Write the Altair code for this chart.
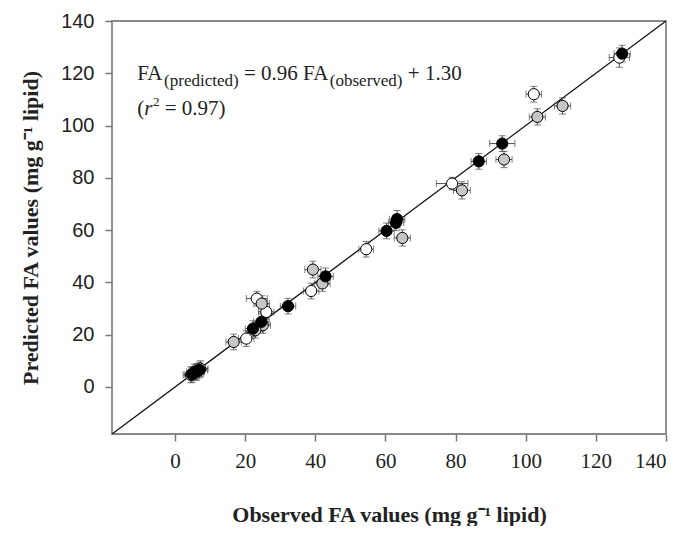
import altair as alt
import pandas as pd

# ---- data ----
black_obs  = [127.5, 93.3, 86.6, 63.3, 63.0, 60.3, 42.9, 32.2, 24.6, 22.2, 5.5, 7.0, 4.8]
black_pred = [127.5, 93.1, 86.3, 64.2, 62.8, 59.7, 42.3, 30.9, 24.9, 22.3, 5.7, 6.5, 4.8]
black_xerr = [2.3, 3.6, 2.2, 2.2, 2.2, 2.2, 2.2, 2.2, 2.2, 2.2, 2.2, 2.2, 2.2]
black_yerr = [3.2, 3.0, 3.0, 3.3, 3.0, 3.0, 3.2, 3.0, 3.0, 3.0, 3.0, 3.0, 3.0]

gray_obs  = [110.5, 103.3, 93.8, 81.8, 64.8, 39.3, 42.0, 24.7, 25.0, 22.9, 16.7, 6.2, 7.2]
gray_pred = [107.5, 103.3, 87.0, 75.2, 57.0, 44.9, 39.6, 31.9, 23.6, 21.7, 17.2, 6.0, 7.0]
gray_xerr = [2.3, 2.3, 2.3, 2.4, 2.3, 2.3, 2.2, 2.2, 2.2, 2.2, 2.2, 2.2, 2.2]
gray_yerr = [3.1, 3.1, 3.1, 3.3, 3.1, 3.2, 3.0, 3.0, 3.0, 3.0, 3.0, 3.0, 3.0]

open_obs  = [126.7, 102.3, 79.0, 54.5, 38.8, 23.3, 26.0, 20.3, 4.5, 6.0]
open_pred = [126.0, 112.0, 77.8, 52.7, 36.7, 33.8, 28.7, 18.5, 4.6, 5.5]
open_xerr = [2.9, 2.2, 4.5, 2.1, 2.2, 3.0, 2.2, 2.2, 2.2, 2.2]
open_yerr = [3.7, 3.0, 2.4, 3.0, 3.0, 2.8, 3.0, 3.0, 3.0, 3.0]

series_names = ["open", "gray", "black"]
series_fill = ["white", "#c6c6c6", "black"]
ticks = [0, 20, 40, 60, 80, 100, 120, 140]
domain = [-18, 140]

SERIF = "Liberation Serif, Times New Roman, Times, serif"
SANS = "Liberation Sans, Arial, Helvetica, sans-serif"

rows = []
for name, xs_, ys_, xe, ye in [
    ("open", open_obs, open_pred, open_xerr, open_yerr),
    ("gray", gray_obs, gray_pred, gray_xerr, gray_yerr),
    ("black", black_obs, black_pred, black_xerr, black_yerr),
]:
    for a, b, c, d in zip(xs_, ys_, xe, ye):
        rows.append(dict(series=name, obs=a, pred=b,
                         xlo=a - c, xhi=a + c, ylo=b - d, yhi=b + d))
df = pd.DataFrame(rows)

xs = alt.Scale(domain=domain, nice=False, zero=False)
ys = alt.Scale(domain=domain, nice=False, zero=False)

xaxis = alt.Axis(values=ticks, title="Observed FA values (mg g\u207b\u00b9 lipid)",
                 labelFont=SERIF, labelFontSize=21, labelColor="#222",
                 labelPadding=9, tickSize=7, tickColor="#777", tickWidth=1.5,
                 domain=False, grid=False,
                 titleFont=SERIF, titleFontWeight="bold", titleFontSize=22,
                 titleColor="#222", titleBaseline="alphabetic", titleY=87)
yaxis = alt.Axis(values=ticks, title="Predicted FA values (mg g\u207b\u00b9 lipid)",
                 labelFont=SANS, labelFontSize=20, labelColor="#222",
                 labelPadding=11, tickSize=7, tickColor="#777", tickWidth=1.5,
                 domain=False, grid=False,
                 titleFont=SERIF, titleFontWeight="bold", titleFontSize=22,
                 titleColor="#222", titleBaseline="alphabetic", titleX=-75)

base = alt.Chart(df)

line = alt.Chart(pd.DataFrame({"x": domain, "y": domain})).mark_line(
    color="#111", strokeWidth=1.3, clip=True
).encode(x=alt.X("x:Q", scale=xs, axis=xaxis), y=alt.Y("y:Q", scale=ys, axis=yaxis))

ebc = "#4a4a4a"
xbar = base.mark_rule(color=ebc, strokeWidth=1).encode(x="xlo:Q", x2="xhi:Q", y="pred:Q")
ybar = base.mark_rule(color=ebc, strokeWidth=1).encode(y="ylo:Q", y2="yhi:Q", x="obs:Q")
capl = base.mark_tick(orient="vertical", color=ebc, size=7, thickness=1).encode(x="xlo:Q", y="pred:Q")
capr = base.mark_tick(orient="vertical", color=ebc, size=7, thickness=1).encode(x="xhi:Q", y="pred:Q")
capb = base.mark_tick(orient="horizontal", color=ebc, size=7, thickness=1).encode(x="obs:Q", y="ylo:Q")
capt = base.mark_tick(orient="horizontal", color=ebc, size=7, thickness=1).encode(x="obs:Q", y="yhi:Q")

pts = base.mark_point(shape="circle", filled=True, size=125, stroke="black",
                      strokeWidth=1, opacity=1).encode(
    x="obs:Q", y="pred:Q",
    fill=alt.Fill("series:N", scale=alt.Scale(domain=series_names, range=series_fill), legend=None),
)

# ---- equation annotation built from pieces (Times metrics, per 1000 em) ----
W = {"F": 556, "A": 722, "(": 333, ")": 333, "p": 500, "r": 333, "e": 444, "d": 500,
     "i": 278, "c": 444, "t": 278, "o": 500, "b": 500, "s": 389, "v": 500, " ": 250,
     "=": 564, "+": 564, ".": 250}
def width(txt, size, italic=False):
    tot = 0
    for ch in txt:
        w = W.get(ch, 500)
        if italic and ch == "r":
            w = 389
        tot += w
    return tot * size / 1000.0

S, s = 21, 17
SP = 0.25 * S  # a space at the main size
# (text, size, baseline shift, style, gap before)
line1 = [("FA", S, 0, "normal", 0), ("(predicted)", s, 6, "normal", 0),
         ("= 0.96 FA", S, 0, "normal", SP), ("(observed)", s, 6, "normal", 0),
         ("+ 1.30", S, 0, "normal", SP)]
line2 = [("(", S, 0, "normal", 0), ("r", S, 0, "italic", 0), ("2", 13, -9, "normal", 0.5),
         ("= 0.97)", S, 0, "normal", SP)]

ann_x = -10.8
texts = []
for pieces, ann_y in [(line1, 117.5), (line2, 104.0)]:
    off = 0.0
    for txt, size, dy, style, gap in pieces:
        off += gap
        t = alt.Chart(pd.DataFrame({"x": [ann_x], "y": [ann_y]})).mark_text(
            text=txt, font=SERIF, fontSize=size, fontStyle=style,
            align="left", baseline="alphabetic", dx=off, dy=dy, color="#222"
        ).encode(x="x:Q", y="y:Q")
        texts.append(t)
        off += width(txt, size, italic=(style == "italic"))

chart = alt.layer(line, xbar, ybar, capl, capr, capb, capt, pts, *texts).properties(
    width=554, height=413,
    autosize=alt.AutoSizeParams(type="none"),
    padding={"left": 104, "top": 13, "right": 13, "bottom": 92},
    background="white",
).configure_view(stroke="#888", strokeWidth=1.8)

chart.save("out.html", embed_options={"renderer": "svg", "actions": False})
